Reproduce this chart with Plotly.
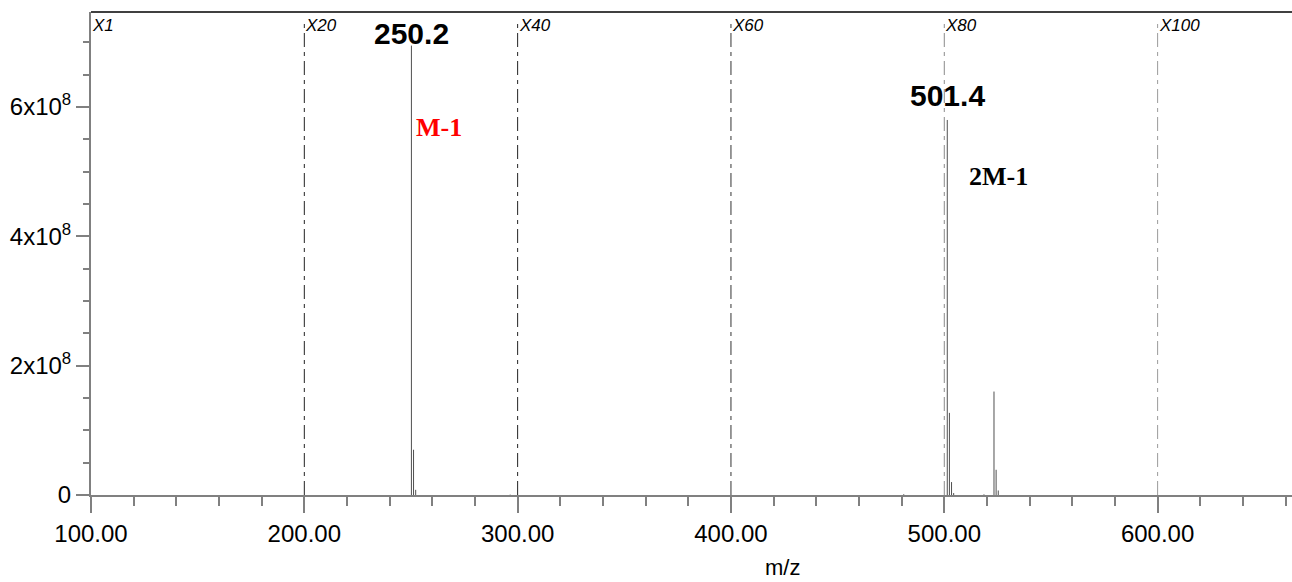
import plotly.graph_objects as go

# Data
mz = [250.2, 251.2, 252.2, 296.5, 481.0, 501.4, 502.4, 503.4, 504.4, 518.6, 523.3, 524.3, 525.3]
intensity = [6.95e8, 0.70e8, 0.08e8, 0.006e8, 0.012e8, 5.80e8, 1.27e8, 0.20e8, 0.03e8, 0.01e8, 1.60e8, 0.39e8, 0.07e8]

marker_mz = [100, 200, 300, 400, 500, 600]
marker_labels = ["X1", "X20", "X40", "X60", "X80", "X100"]
marker_colors = [None, "#222222", "#222222", "#333333", "#8a8a8a", "#9a9a9a"]

peak_labels = [("250.2", 250.2, 6.95e8, -6), ("501.4", 501.4, 5.80e8, 6)]
ion_labels = [("M-1", 251.4, 5.69e8, "#ff0000"), ("2M-1", 510.6, 4.92e8, "#000000")]

y_tickvals = [0, 2e8, 4e8, 6e8]
y_ticktext = ["0", "2x10<sup>8</sup>", "4x10<sup>8</sup>", "6x10<sup>8</sup>"]

SANS = "Liberation Sans, Arial, sans-serif"
SERIF = "Liberation Serif, Times New Roman, serif"

# build stick spectrum
xs, ys = [], []
for m, v in zip(mz, intensity):
    xs += [m, m, None]
    ys += [0, v, None]

fig = go.Figure()
fig.add_trace(go.Scatter(x=xs, y=ys, mode="lines", line=dict(color="#505050", width=1),
                         hoverinfo="skip", showlegend=False))

shapes = []
annotations = []
for m, lab, col in zip(marker_mz, marker_labels, marker_colors):
    if col is not None:
        shapes.append(dict(type="line", xref="x", yref="paper", x0=m, x1=m, y0=0, y1=0.985,
                           line=dict(color=col, width=1, dash="14px,5px,4px,5px"), layer="below"))
    annotations.append(dict(x=m, y=0.972, xref="x", yref="paper", text="<i>" + lab + "</i>", showarrow=False,
                            xanchor="left", yanchor="middle", xshift=-1,
                            font=dict(family=SANS, size=17, color="#000000")))
# top border
shapes.append(dict(type="line", xref="paper", yref="paper", x0=0, x1=1, y0=1, y1=1,
                   line=dict(color="#000000", width=1.5)))

for txt, x, y, sh in peak_labels:
    annotations.append(dict(x=x, y=y, xref="x", yref="y", text="<b>" + txt + "</b>", showarrow=False,
                            xanchor="center", yanchor="bottom", yshift=sh,
                            font=dict(family=SANS, size=30, color="#000000")))
for txt, x, y, col in ion_labels:
    annotations.append(dict(x=x, y=y, xref="x", yref="y", text="<b>" + txt + "</b>", showarrow=False,
                            xanchor="left", yanchor="middle",
                            font=dict(family=SERIF, size=26, color=col)))

annotations.append(dict(x=424, y=-0.15, xref="x", yref="paper", text="m/z", showarrow=False,
                        xanchor="center", yanchor="middle",
                        font=dict(family=SANS, size=22, color="#000000")))

fig.update_layout(
    width=1292, height=582,
    margin=dict(l=91, r=0, t=12, b=87),
    paper_bgcolor="white", plot_bgcolor="white",
    shapes=shapes, annotations=annotations,
    xaxis=dict(range=[100, 663], showgrid=False, zeroline=False,
               showline=True, linecolor="#808080", linewidth=2,
               ticks="outside", ticklen=16, tickwidth=1.5, tickcolor="#808080",
               tick0=100, dtick=100, tickformat=".2f",
               tickfont=dict(family=SANS, size=24, color="#000000"),
               minor=dict(ticks="outside", ticklen=9, tickwidth=1.5, tickcolor="#808080", dtick=20, tick0=100, showgrid=False)),
    yaxis=dict(range=[0, 7.47e8], showgrid=False, zeroline=False,
               showline=True, linecolor="#808080", linewidth=2,
               ticks="outside", ticklen=13, tickwidth=1.5, tickcolor="#808080",
               tickvals=y_tickvals, ticktext=y_ticktext,
               tickfont=dict(family=SANS, size=24, color="#000000"),
               minor=dict(ticks="outside", ticklen=6, tickwidth=1.5, tickcolor="#808080", dtick=0.5e8, tick0=0, showgrid=False)),
)

fig.write_html("out.html", config={"displayModeBar": False},
               post_script="document.body.style.margin='0';document.body.style.overflow='hidden';")
